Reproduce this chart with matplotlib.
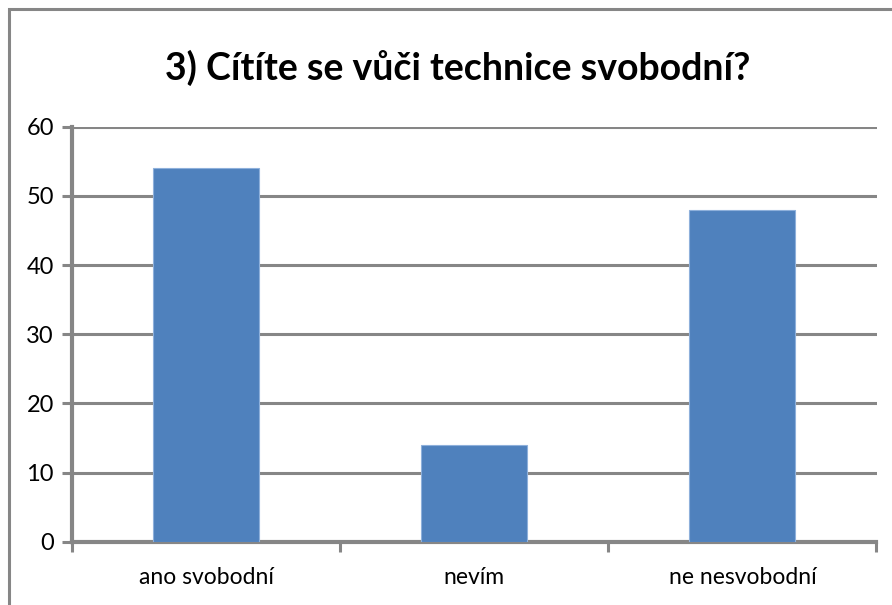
import matplotlib.pyplot as plt
from matplotlib.patches import Rectangle

categories = ["ano svobodní", "nevím", "ne nesvobodní"]
values = [54, 14, 48]
yticks = [0, 10, 20, 30, 40, 50, 60]
title = "3) Cítíte se vůči technice svobodní?"

plt.rcParams['font.family'] = ['Lato', 'DejaVu Sans']

fig = plt.figure(figsize=(8.92, 6.05), dpi=100)
# outer chart border (only left and top visible in the reference)
fig.patches.append(Rectangle((9 / 892, -0.01), 1.0, 1 - 9 / 605 + 0.01,
                             transform=fig.transFigure, fill=False,
                             edgecolor='#868686', linewidth=2.2))

ax = fig.add_axes([72 / 892, 1 - 541.7 / 605, (876.5 - 72) / 892, (541.7 - 126.7) / 605])

x = range(len(categories))
ax.bar(x, values, width=0.395, color='#4F81BD', edgecolor='#8EB0DB', linewidth=0.8, zorder=3)

ax.set_xlim(-0.5, len(categories) - 0.5)
ax.set_ylim(0, 60)
ax.set_yticks(yticks)
ax.set_yticklabels([str(t) for t in yticks], fontsize=17)
ax.yaxis.grid(True, color='#868686', linewidth=2.2, zorder=0)

ax.set_xticks([i - 0.5 for i in range(len(categories) + 1)])
ax.set_xticklabels([])
ax.set_xticks(list(x), minor=True)
ax.set_xticklabels(categories, minor=True, fontsize=16.5)
ax.tick_params(axis='x', which='minor', length=0, pad=18)
ax.tick_params(axis='x', which='major', length=7, width=2.2, color='#868686', direction='out')
ax.tick_params(axis='y', length=7, width=2.2, color='#868686', pad=6)

for s in ['top', 'right']:
    ax.spines[s].set_visible(False)
for s in ['left', 'bottom']:
    ax.spines[s].set_color('#868686')
    ax.spines[s].set_linewidth(3)

fig.text(458 / 892, 1 - 68 / 605, title, ha='center', va='center', fontsize=27, fontweight='bold')

fig.savefig('out.png', dpi=100)
